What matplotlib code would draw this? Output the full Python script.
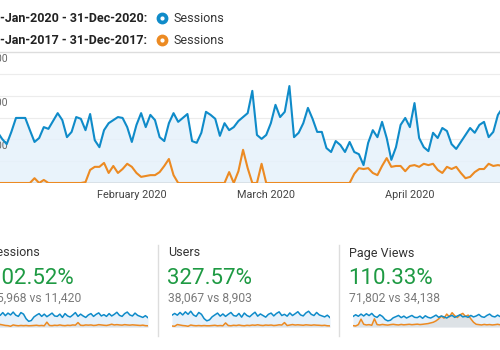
import numpy as np
import pandas as pd
import matplotlib
matplotlib.use('Agg')
import matplotlib.pyplot as plt
import matplotlib.dates as mdates
from matplotlib.lines import Line2D

plt.rcParams['font.family'] = ['Roboto', 'DejaVu Sans']

# daily sessions (visible part of the chart starts 3 Jan 2020)
first_day = '2020-01-03'
sessions_2020 = [117, 101, 89, 117, 149, 149, 149, 121, 94, 103,
                 128, 124, 142, 160, 144, 105, 117, 151, 147, 121,
                 158, 98, 82, 121, 137, 144, 151, 149, 128, 94,
                 133, 160, 128, 156, 144, 105, 96, 137, 160, 140,
                 149, 158, 96, 92, 115, 163, 156, 147, 108, 137,
                 121, 128, 142, 151, 160, 211, 110, 101, 110, 137,
                 179, 151, 163, 222, 105, 115, 137, 172, 147, 117,
                 117, 80, 71, 96, 87, 71, 94, 71, 66, 41,
                 92, 121, 105, 140, 103, 53, 82, 133, 149, 128,
                 183, 103, 82, 73, 115, 103, 126, 119, 89, 78,
                 94, 110, 126, 115, 133, 140, 105, 117, 156, 172]
sessions_2017 = [0, 0, 0, 0, 0, 0, 0, 0, 11, 0,
                 7, 0, 0, 0, 0, 0, 0, 0, 0, 2,
                 30, 37, 37, 46, 23, 39, 23, 32, 44, 37,
                 23, 14, 16, 18, 18, 25, 39, 55, 18, 0,
                 0, 0, 0, 0, 0, 0, 0, 0, 0, 0,
                 25, 0, 27, 76, 34, 0, 0, 44, 0, 0,
                 0, 0, 0, 0, 0, 0, 0, 0, 0, 0,
                 0, 0, 0, 0, 0, 0, 0, 21, 34, 32,
                 34, 23, 18, 39, 57, 37, 39, 39, 27, 39,
                 41, 37, 44, 41, 44, 30, 23, 37, 32, 37,
                 23, 11, 14, 25, 32, 32, 44, 39, 41, 39]

range_labels = ['1-Jan-2020 - 31-Dec-2020:', '1-Jan-2017 - 31-Dec-2017:']
metric = 'Sessions'
y_labels = [300, 200, 100]
month_starts = ['2020-02-01', '2020-03-01', '2020-04-01']
month_labels = ['February 2020', 'March 2020', 'April 2020']

card_titles = ['Sessions', 'Users', 'Page Views']
card_changes = ['102.52%', '327.57%', '110.33%']
card_totals = ['45,968 vs 11,420', '38,067 vs 8,903', '71,802 vs 34,138']

spark_sessions_2020 = [125, 145, 128, 155, 125, 150, 132, 160, 130, 118, 155, 140, 95, 70, 78,
                       112, 130, 145, 118, 140, 115, 132, 150, 122, 118, 140, 108, 145, 122, 112,
                       132, 155, 118, 140, 122, 108, 132, 145, 118, 138, 152, 122, 135, 118, 145,
                       122, 138, 158, 128, 118, 145, 160, 132, 122, 150, 128, 118, 108, 125, 105]
spark_sessions_2017 = [25, 22, 40, 35, 30, 28, 22, 35, 30, 27, 30, 28, 30, 27, 28,
                       30, 32, 28, 30, 27, 62, 30, 28, 32, 30, 35, 30, 28, 32, 30,
                       35, 33, 58, 32, 30, 35, 33, 35, 30, 32, 38, 35, 32, 30, 35,
                       42, 35, 38, 35, 33, 38, 35, 33, 36, 34, 32, 30, 33, 28, 27]
spark_users_2020 = [108, 122, 108, 130, 110, 135, 115, 140, 110, 98, 130, 115, 80, 62, 70,
                    95, 110, 125, 100, 118, 98, 115, 130, 105, 100, 122, 92, 125, 105, 95,
                    115, 132, 100, 118, 105, 92, 115, 125, 102, 122, 135, 105, 115, 100, 126,
                    105, 120, 136, 110, 102, 126, 140, 115, 105, 130, 110, 102, 94, 108, 88]
spark_users_2017 = [20, 18, 32, 28, 24, 22, 18, 28, 24, 22, 24, 22, 24, 22, 22,
                    24, 26, 22, 24, 22, 45, 24, 22, 26, 24, 28, 24, 22, 26, 24,
                    28, 26, 30, 26, 24, 28, 26, 28, 24, 26, 30, 28, 48, 24, 28,
                    32, 28, 30, 28, 26, 30, 28, 26, 29, 27, 26, 24, 26, 22, 21]
spark_views_2020 = [205, 230, 208, 240, 212, 245, 218, 250, 208, 192, 230, 205, 160, 140, 150,
                    185, 202, 220, 188, 210, 182, 202, 220, 192, 188, 210, 178, 215, 192, 182,
                    202, 225, 192, 212, 198, 182, 208, 220, 192, 212, 230, 198, 208, 192, 220,
                    198, 212, 235, 202, 192, 220, 240, 208, 198, 225, 202, 192, 182, 200, 180]
spark_views_2017 = [70, 65, 85, 165, 90, 80, 85, 75, 170, 85, 80, 88, 82, 78, 85,
                    90, 84, 80, 88, 82, 86, 90, 84, 88, 92, 86, 90, 95, 100, 110,
                    120, 140, 170, 210, 180, 240, 200, 260, 215, 190, 230, 250, 205, 225, 170,
                    120, 90, 85, 80, 88, 82, 86, 80, 84, 90, 82, 86, 80, 84, 78]

BLUE = '#0f8bc9'
ORANGE = '#ec8a22'
FILL = '#e6f1fb'
GREEN = '#1e9a43'

W, H = 500, 350
fig = plt.figure(figsize=(W / 100, H / 100), dpi=100)
fig.patch.set_facecolor('white')


def px_axes(x0, y0, x1, y1):
    return fig.add_axes([x0 / W, 1 - y1 / H, (x1 - x0) / W, (y1 - y0) / H])


def fx(x):
    return x / W


def fy(y):
    return 1 - y / H


# legend rows
for i, (lab, col) in enumerate(zip(range_labels, [BLUE, ORANGE])):
    y = 18 + 22 * i
    fig.text(fx(147), fy(y), lab, ha='right', va='center', fontsize=9,
             fontweight='bold', color='#222222')
    fig.add_artist(Line2D([fx(162)], [fy(y)], marker='o', markersize=7.5, color=col,
                          transform=fig.transFigure))
    fig.add_artist(Line2D([fx(162)], [fy(y)], marker='o', markersize=2, color='white',
                          transform=fig.transFigure))
    fig.text(fx(174), fy(y), metric, ha='left', va='center', fontsize=9, color='#333333')

# main chart
dates = pd.date_range(first_day, periods=len(sessions_2020), freq='D')
ax = px_axes(0, 52, 500, 183)
jan1 = mdates.date2num(pd.Timestamp('2020-01-01'))
ax.set_xlim(jan1 + 2.55, jan1 + 110.45)
ax.set_ylim(0, 300)
for v in range(50, 300, 50):
    ax.axhline(v, color='#ececec', lw=0.8, zorder=0)
ax.axhline(300, color='#dddddd', lw=1, zorder=0, clip_on=False)
ax.fill_between(dates, sessions_2020, 0, color=FILL, alpha=0.85, lw=0, zorder=1)
ax.plot(dates, sessions_2017, color=ORANGE, lw=1.5, zorder=3)
ax.plot(dates, sessions_2020, color=BLUE, lw=1.5, zorder=4)
ax.axhline(0, color='#9a9a9a', lw=1, zorder=2)
for sp in ax.spines.values():
    sp.set_visible(False)
ax.set_xticks([])
ax.set_yticks([])
for v in y_labels:
    ax.annotate(str(v), xy=(0, v), xycoords=('axes fraction', 'data'),
                xytext=(8, -7), textcoords='offset pixels', ha='right', va='center',
                fontsize=7.5, color='#666666', annotation_clip=False)
for d, lab in zip(month_starts, month_labels):
    ax.text(mdates.date2num(pd.Timestamp(d)), -12 / 131, lab,
            transform=ax.get_xaxis_transform(), ha='center', va='center',
            fontsize=7.8, color='#444444')

# scorecards
card_x = [-10, 168, 349]
spark_x = [(-5, 148), (172, 330), (353, 511)]
sparks = [(spark_sessions_2020, spark_sessions_2017, 15, 180),
          (spark_users_2020, spark_users_2017, 12, 150),
          (spark_views_2020, spark_views_2017, 50, 300)]
for i in range(3):
    x = card_x[i]
    fig.text(fx(x), fy(253), card_titles[i], ha='left', va='center', fontsize=9,
             color='#333333')
    fig.text(fx(x - 1), fy(278), card_changes[i], ha='left', va='center', fontsize=16,
             color=GREEN)
    fig.text(fx(x), fy(298), card_totals[i], ha='left', va='center', fontsize=8.7,
             color='#7a7a7a')
    cur, prev, low, top = sparks[i]
    sx0, sx1 = spark_x[i]
    sa = px_axes(sx0, 310, sx1, 327)
    xs = np.arange(len(cur))
    sa.fill_between(xs, cur, low, color=FILL, lw=0)
    sa.fill_between(xs, prev, low, color='#d8d8d8', alpha=0.6, lw=0)
    sa.plot(xs, prev, color=ORANGE, lw=1.1)
    sa.plot(xs, cur, color=BLUE, lw=1.1)
    sa.set_xlim(0, len(cur) - 1)
    sa.set_ylim(low, top)
    sa.axis('off')

for x in [157.5, 338.5]:
    fig.add_artist(Line2D([fx(x), fx(x)], [fy(245), fy(336)], color='#dddddd', lw=1,
                          transform=fig.transFigure))

fig.savefig('out.png', dpi=100, facecolor='white')
